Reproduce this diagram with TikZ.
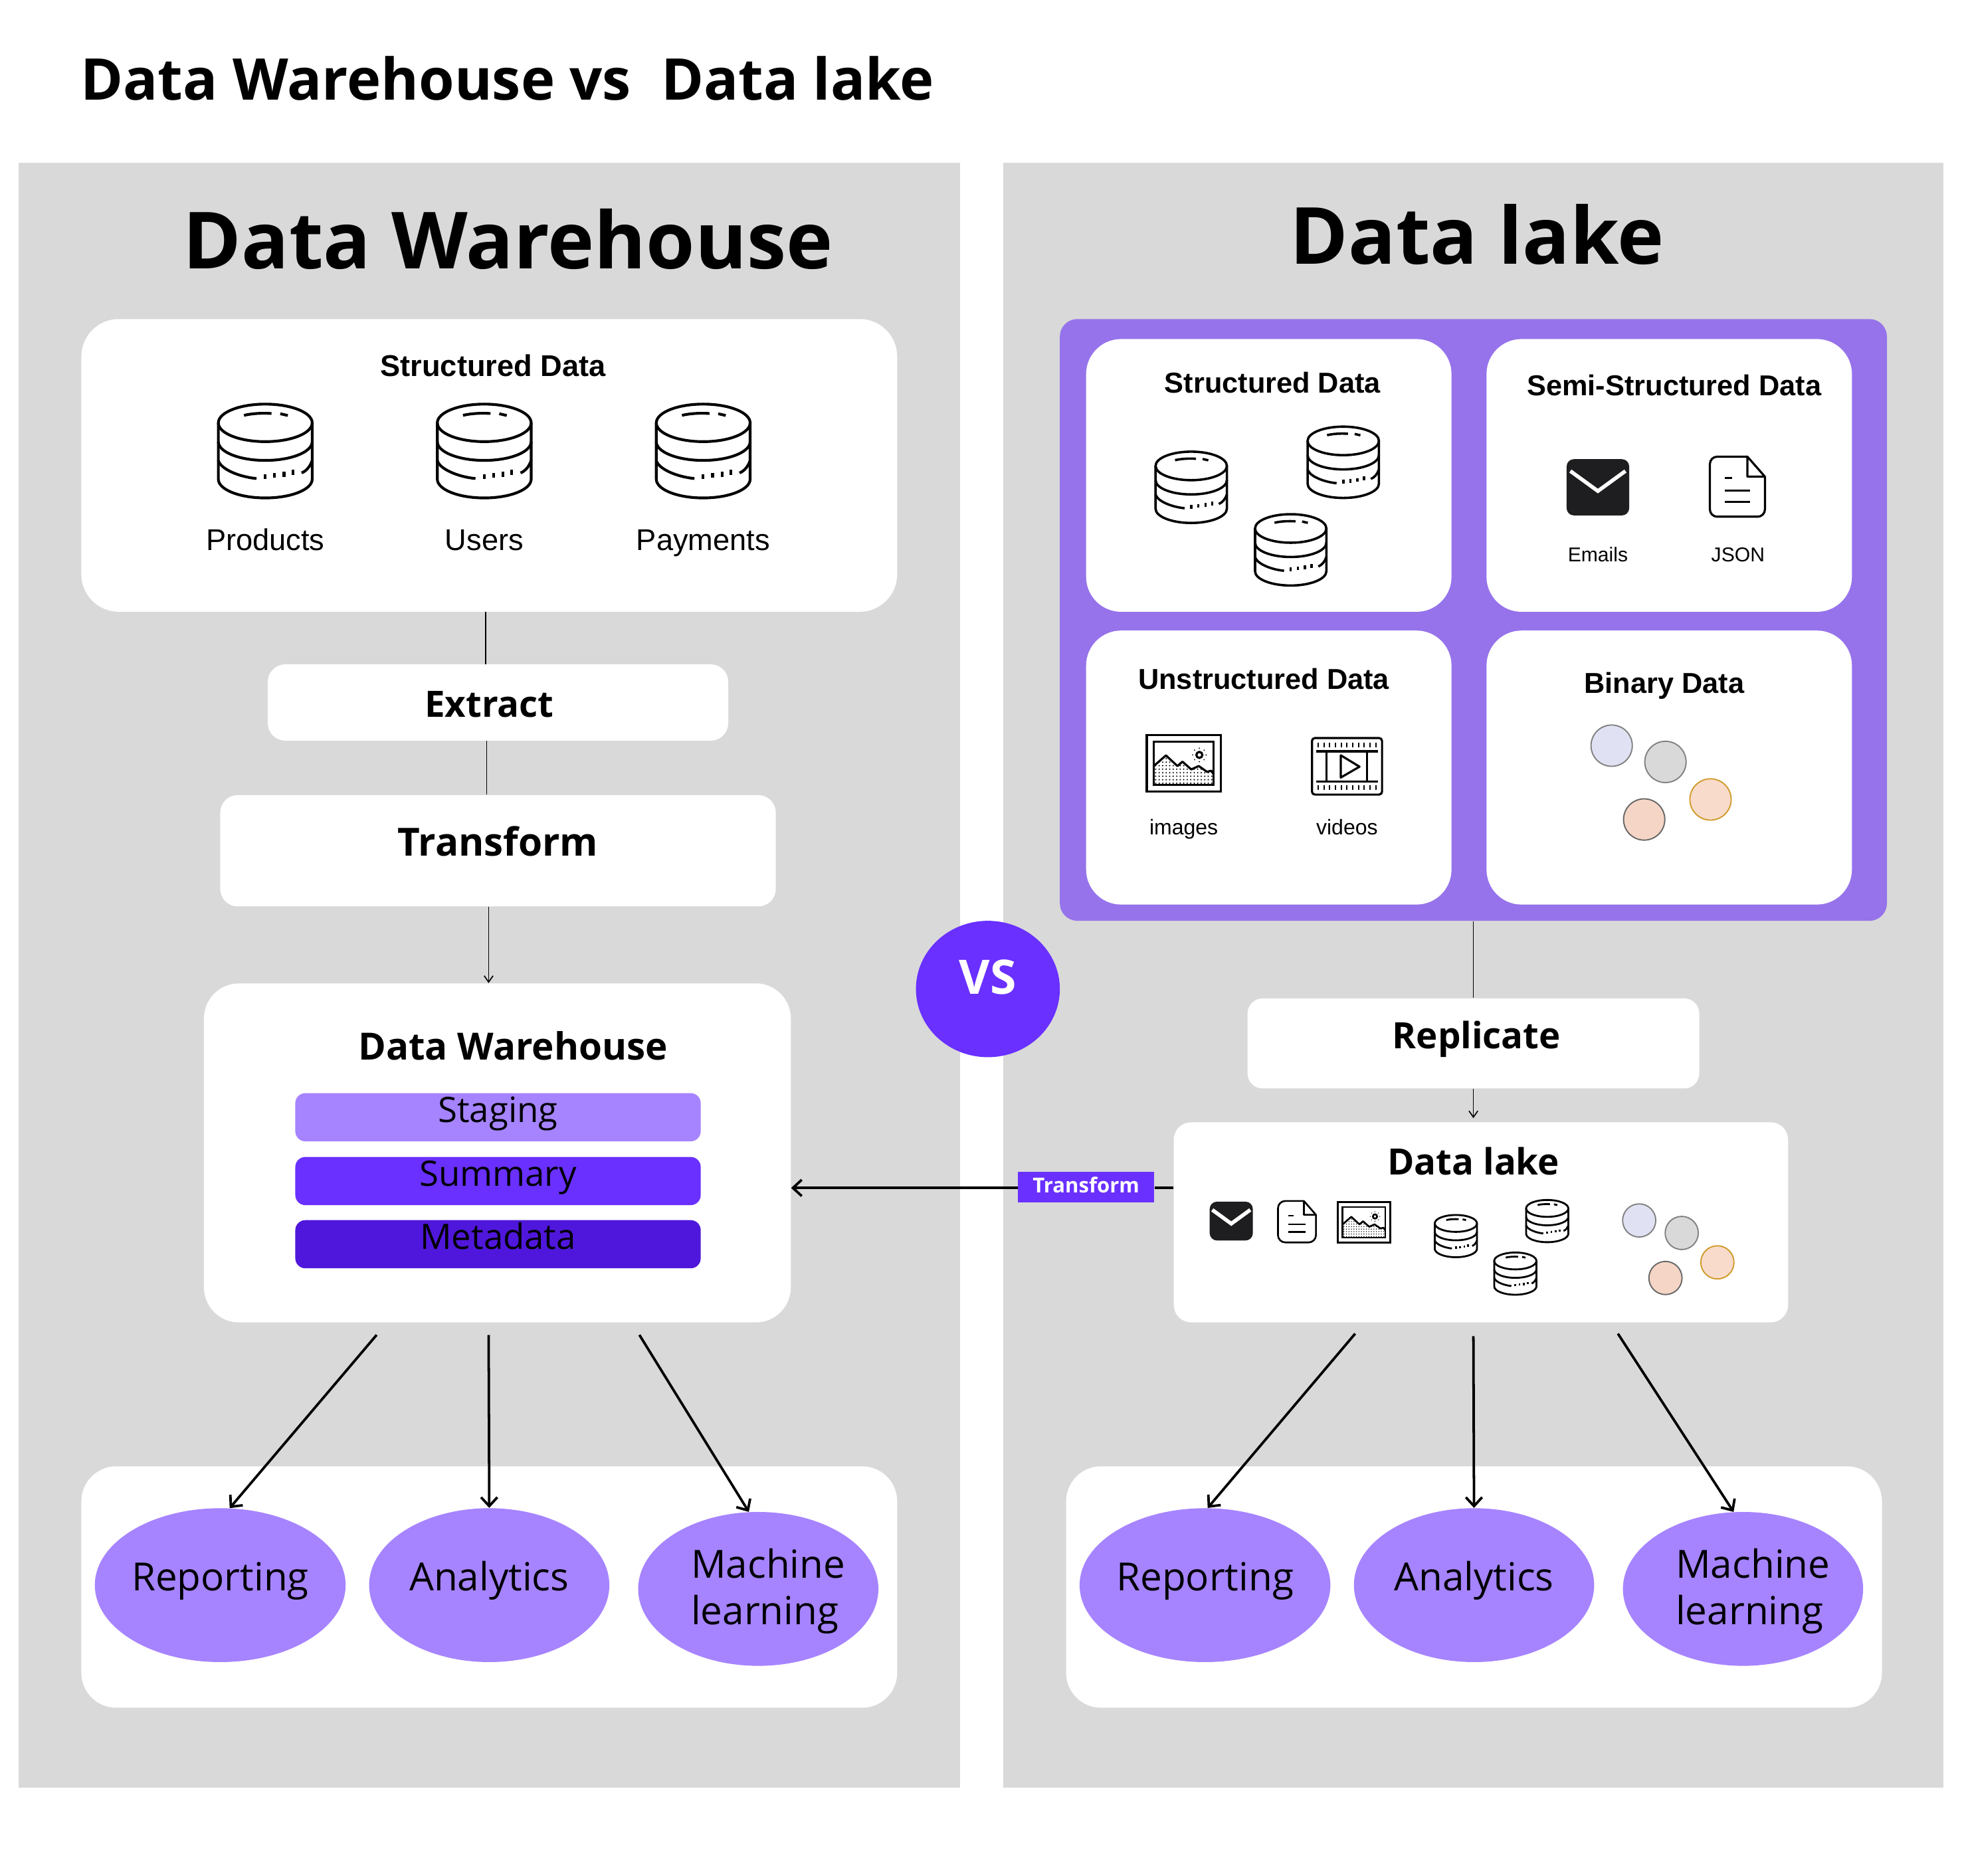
\documentclass[tikz,border=0pt]{standalone}
\usepackage{fontspec}
\setmainfont{Open Sans}
\newfontfamily\hv{Liberation Sans}
\usetikzlibrary{arrows.meta,shapes.geometric}
\newdimen\uu \uu=0.03cm
\newcommand\fsz[1]{\fontsize{\fpeval{#1*0.85358}}{\fpeval{#1*1.2*0.85358}}\selectfont}
\definecolor{panelgray}{HTML}{D9D9D9}
\definecolor{lakepurple}{HTML}{9673EB}
\definecolor{lightviolet}{HTML}{A684FF}
\definecolor{vivid}{HTML}{6930FF}
\definecolor{deepviolet}{HTML}{4F17DB}
\definecolor{iconblack}{HTML}{1E1E20}
\definecolor{chipblue}{HTML}{E0E1F3}
\definecolor{chippeach}{HTML}{F9DBCB}
\definecolor{chipsalmon}{HTML}{F5D5C5}
\definecolor{chipgold}{HTML}{D09A2A}
\tikzset{
  panel/.style={fill=panelgray,inner sep=0pt},
  card/.style={fill=white,rounded corners=#1\uu,inner sep=0pt},
  card/.default=30,
  layer/.style={fill=#1,rounded corners=8\uu,inner sep=0pt,minimum width=324\uu,minimum height=38.5\uu,text height=.72em,text depth=0pt,font=\fsz{28}},
  oval/.style={ellipse,fill=lightviolet,inner sep=0pt,minimum width=192\uu,minimum height=123\uu,font=\fsz{31},text height=.72em,text depth=0pt},
  boldtxt/.style={inner sep=0pt,anchor=base,font=\bfseries\fsz{#1}},
  regtxt/.style={inner sep=0pt,anchor=base,font=\fsz{#1}},
  hvb/.style={inner sep=0pt,anchor=base,font=\hv\bfseries\fsz{#1}},
  hvr/.style={inner sep=0pt,anchor=base,font=\hv\fsz{#1}},
  thin line/.style={draw=black,line width=.9\uu},
  thin arrow/.style={thin line,-{Straight Barb[length=4.3pt,width=6pt,line width=.77pt]}},
  main arrow/.style={draw=black,line width=2\uu,-{Straight Barb[length=6pt,width=11.1pt,line width=1.7pt]}},
  pics/dbicon/.style={code={
    \draw (0,-22.5) ellipse[x radius=37.5,y radius=15];
    \draw (-37.5,-22.5) -- (-37.5,22.5) .. controls (-37.5,30.8) and (-20.7,37.5) .. (0,37.5) .. controls (20.7,37.5) and (37.5,30.8) .. (37.5,22.5) -- (37.5,-22.5);
    \draw (-37.5,-7.5) .. controls (-37.5,0.8) and (-20.7,7.5) .. (0,7.5) .. controls (20.7,7.5) and (37.5,0.8) .. (37.5,-7.5);
    \draw (-37.5,7.5) .. controls (-36,14) and (-22,20.5) .. (-7,22);
    \draw (0,18.5) -- (0,22.5) (7.5,17.5) -- (7.5,21.5) (15,16.5) -- (15,20.5) (22,15) -- (22,19);
    \draw (29,17.5) .. controls (33,16) and (36,12) .. (37.5,7.5);
    \draw (-17,-28.5) .. controls (-11,-30) and (-3,-30.5) .. (5,-30);
    \draw (12,-29.8) -- (18,-28.4);
  }},
  pics/mailicon/.style={code={
    \fill[iconblack,rounded corners=5] (-25,-22.5) rectangle (25,22.5);
    \draw[white,line width=3\uu] (-22,-13) -- (0,3) -- (22,-13);
  }},
  pics/docicon/.style={code={
    \draw[rounded corners=5] (8,-24) -- (-22,-24) -- (-22,24) -- (22,24) -- (22,-8);
    \draw[line join=round] (8,-24) -- (22,-8) -- (8,-8) -- cycle;
    \draw (-10,-7) -- (-4,-7) (-10,3) -- (10,3) (-10,12) -- (10,12);
  }},
  pics/imageicon/.style={code={
    \draw (-29.5,-22.6) rectangle (29.5,22.6);
    \draw (-24,-17.2) rectangle (24,17.3);
    \draw (12.5,-6.6) circle[radius=2.4];
    \foreach \a in {0,45,...,315}{\fill (12.5,-6.6)+(\a:5.4) circle[radius=.55];}
    \draw[line join=round] (-24,2.3) -- (-14.2,-6.2) -- (-5,2.3) -- (-1,-1.2) -- (6,5) -- (12,2.3) -- (18.6,6.9) -- (22,6) -- (24,9);
    \begin{scope}
      \clip (-24,2.3) -- (-14.2,-6.2) -- (-5,2.3) -- (-1,-1.2) -- (6,5) -- (12,2.3) -- (18.6,6.9) -- (22,6) -- (24,9) -- (24,17.3) -- (-24,17.3) -- cycle;
      \foreach \i in {-8,...,8}{\foreach \j in {-3,...,5}{\fill (\i*2.8,\j*2.8+2) circle[radius=.6];}}
    \end{scope}
  }},
  pics/videoicon/.style={code={
    \draw[rounded corners=2] (-28,-22.6) rectangle (28,22.6);
    \draw (-24.5,-12) -- (24.5,-12) (-24.5,12.2) -- (24.5,12.2);
    \draw (-16.3,-12) -- (-16.3,12.2) (16,-12) -- (16,12.2);
    \draw[line join=round] (-5,-8.8) -- (10,0.3) -- (-5,9) -- cycle;
    \foreach \i in {-5,...,5}{\draw[line width=1.1\uu] (\i*4.6,-18.8) -- (\i*4.6,-15) (\i*4.6,15.2) -- (\i*4.6,19);}
  }},
  chip/.style n args={2}{circle,draw=#1,fill=#2,inner sep=0pt,line width=1\uu},
}
\begin{document}
\begin{tikzpicture}[x=0.03cm,y=-0.03cm]
\path[use as bounding box,fill=white] (0,0) rectangle (1568,1499);

\node[boldtxt=46] (title) at (405.5,80) {Data Warehouse vs\ \ Data lake};

% panels
\node[panel,minimum width=752\uu,minimum height=1299\uu] (pl) at (391,779.5) {};
\node[panel,minimum width=751\uu,minimum height=1299\uu] (pr) at (1177.5,779.5) {};
\node[boldtxt=63] (hl) at (406,215) {Data Warehouse};
\node[boldtxt=63] (hr) at (1180.5,211) {Data lake};

% left side boxes
\node[card,minimum width=652\uu,minimum height=234\uu] (sd) at (391,372) {};
\node[hvb=24] (sdt) at (394,301) {Structured Data};
\pic[line width=2.2\uu] at (212,360.5) {dbicon};
\pic[line width=2.2\uu] at (387,360.5) {dbicon};
\pic[line width=2.2\uu] at (562,360.5) {dbicon};
\node[hvr=24] (lp) at (212,440) {Products};
\node[hvr=24] (lu) at (387,440) {Users};
\node[hvr=24] (lpay) at (562,440) {Payments};

\node[card=14,minimum width=368\uu,minimum height=61\uu] (ext) at (398,561.5) {};
\node[boldtxt=29] (extt) at (391,573) {Extract};
\node[card=14,minimum width=444\uu,minimum height=89\uu,font=\bfseries\fsz{31},text height=.72em,text depth=0pt] (tr) at (398,680) {Transform};

\node[card=28,minimum width=469\uu,minimum height=271\uu] (dw) at (397.5,921.5) {};
\node[boldtxt=30] (dwt) at (410,847) {Data Warehouse};
\node[layer=lightviolet] (l1) at (398,893) {Staging};
\node[layer=vivid] (l2) at (398,944) {Summary};
\node[layer=deepviolet] (l3) at (398,994.5) {Metadata};

\node[card=28,minimum width=652\uu,minimum height=193\uu] (ul) at (391,1268.5) {};
\node[oval] (o1) at (176,1267) {Reporting};
\node[oval] (o2) at (391,1267) {Analytics};
\node[oval] (o3) at (606,1270) {};
\node[inner sep=0pt,font=\fsz{31},align=left,anchor=west] (o3t) at (552,1272) {Machine\\learning};

% VS
\node[ellipse,fill=vivid,inner sep=0pt,minimum width=115\uu,minimum height=109\uu,text=white,font=\bfseries\fsz{38},text height=.72em,text depth=0pt] (vs) at (789.5,790.5) {VS};

% right side
\node[card=14,fill=lakepurple,minimum width=661\uu,minimum height=481\uu] (pb) at (1177.5,495.5) {};
\node[card=28,minimum width=292\uu,minimum height=218\uu] (c1) at (1014,380) {};
\node[card=28,minimum width=292\uu,minimum height=218\uu] (c2) at (1334,380) {};
\node[card=28,minimum width=292\uu,minimum height=219\uu] (c3) at (1014,613.5) {};
\node[card=28,minimum width=292\uu,minimum height=219\uu] (c4) at (1334,613.5) {};
\node[hvb=23] (c1t) at (1017,314) {Structured Data};
\node[hvb=23] (c2t) at (1338,316) {Semi-Structured Data};
\node[hvb=23] (c3t) at (1010,551) {Unstructured Data};
\node[hvb=23] (c4t) at (1330,554) {Binary Data};
\pic[scale=.76,line width=1.9\uu] at (952,389.5) {dbicon};
\pic[scale=.76,line width=1.9\uu] at (1073.5,369.5) {dbicon};
\pic[scale=.76,line width=1.9\uu] at (1031.5,439.5) {dbicon};
\pic at (1277,389.5) {mailicon};
\pic[line width=1.7\uu] at (1388.5,389) {docicon};
\node[hvr=16] (lem) at (1277,449) {Emails};
\node[hvr=16] (ljs) at (1389,449) {JSON};
\pic[line width=1.7\uu] at (946,610) {imageicon};
\pic[line width=1.7\uu] at (1076.5,612.5) {videoicon};
\node[hvr=17] (lim) at (946,667) {images};
\node[hvr=17] (lvi) at (1076.5,667) {videos};
\node[chip={gray}{chipblue},minimum size=33\uu] (b1) at (1288,596) {};
\node[chip={gray}{panelgray},minimum size=33\uu] (b2) at (1331,609) {};
\node[chip={chipgold}{chippeach},minimum size=33\uu] (b3) at (1367,639) {};
\node[chip={gray!80!black}{chipsalmon},minimum size=33\uu] (b4) at (1314,655) {};

\node[card=12,minimum width=361\uu,minimum height=72\uu,font=\bfseries\fsz{29},text height=.72em,text depth=0pt] (rep) at (1177.5,834) {\hspace{5\uu}Replicate};

\node[card=14,minimum width=491\uu,minimum height=160\uu] (lk) at (1183.5,977) {};
\node[boldtxt=29] (lkt) at (1177.5,939) {Data lake};
\pic[scale=.69] at (984,976) {mailicon};
\pic[scale=.69,line width=1.4\uu] at (1036.5,976.5) {docicon};
\pic[scale=.71,line width=1.4\uu] at (1090,977) {imageicon};
\pic[scale=.45,line width=1.5\uu] at (1163.5,988) {dbicon};
\pic[scale=.45,line width=1.5\uu] at (1236.5,976) {dbicon};
\pic[scale=.45,line width=1.5\uu] at (1211,1018) {dbicon};
\node[chip={gray}{chipblue},minimum size=26.5\uu] (s1) at (1310,975.5) {};
\node[chip={gray}{panelgray},minimum size=26.5\uu] (s2) at (1344,985.5) {};
\node[chip={chipgold}{chippeach},minimum size=26.5\uu] (s3) at (1372.5,1009) {};
\node[chip={gray!80!black}{chipsalmon},minimum size=26.5\uu] (s4) at (1331,1021.5) {};

\node[card=28,minimum width=652\uu,minimum height=193\uu] (ur) at (1178,1268.5) {};
\node[oval] (p1) at (963,1267) {Reporting};
\node[oval] (p2) at (1178,1267) {Analytics};
\node[oval] (p3) at (1393,1270) {};
\node[inner sep=0pt,font=\fsz{31},align=left,anchor=west] (p3t) at (1339,1272) {Machine\\learning};

% connectors
\coordinate (x1) at (388,0);
\coordinate (x2) at (389,0);
\coordinate (x3) at (390.5,0);
\draw[thin line] (sd.south -| x1) -- (ext.north -| x1);
\draw[thin line] (ext.south -| x2) -- (tr.north -| x2);
\draw[thin arrow] (tr.south -| x3) -- (dw.north -| x3);
\draw[thin line] (pb.south) -- (rep.north);
\coordinate (x4) at (1177.5,0);
\draw[thin arrow,shorten >=3\uu] (rep.south -| x4) -- (lk.north -| x4);

\coordinate (ty) at (0,949.5);
\node[fill=vivid,text=white,inner sep=0pt,minimum width=109\uu,minimum height=24.5\uu,font=\bfseries\fsz{16.5},text height=.72em,text depth=0pt] (tf) at (868,949) {Transform};
\draw[main arrow] (tf.west |- ty) -- (dw.east |- ty);
\draw[draw=black,line width=2\uu] (lk.west |- ty) -- (tf.east |- ty);

\coordinate (a1) at (301,1067);
\coordinate (a2) at (390.5,1067);
\coordinate (a3) at (511,1067);
\coordinate (b1s) at (1083,1066);
\coordinate (b2s) at (1177.5,1068);
\coordinate (b3s) at (1293,1066);
\draw[main arrow] (a1) -- (o1.83);
\draw[main arrow] (a2) -- (o2.north);
\draw[main arrow] (a3) -- (o3.97);
\draw[main arrow] (b1s) -- (p1.88);
\draw[main arrow] (b2s) -- (p2.north);
\draw[main arrow] (b3s) -- (p3.97);
\end{tikzpicture}
\end{document}
